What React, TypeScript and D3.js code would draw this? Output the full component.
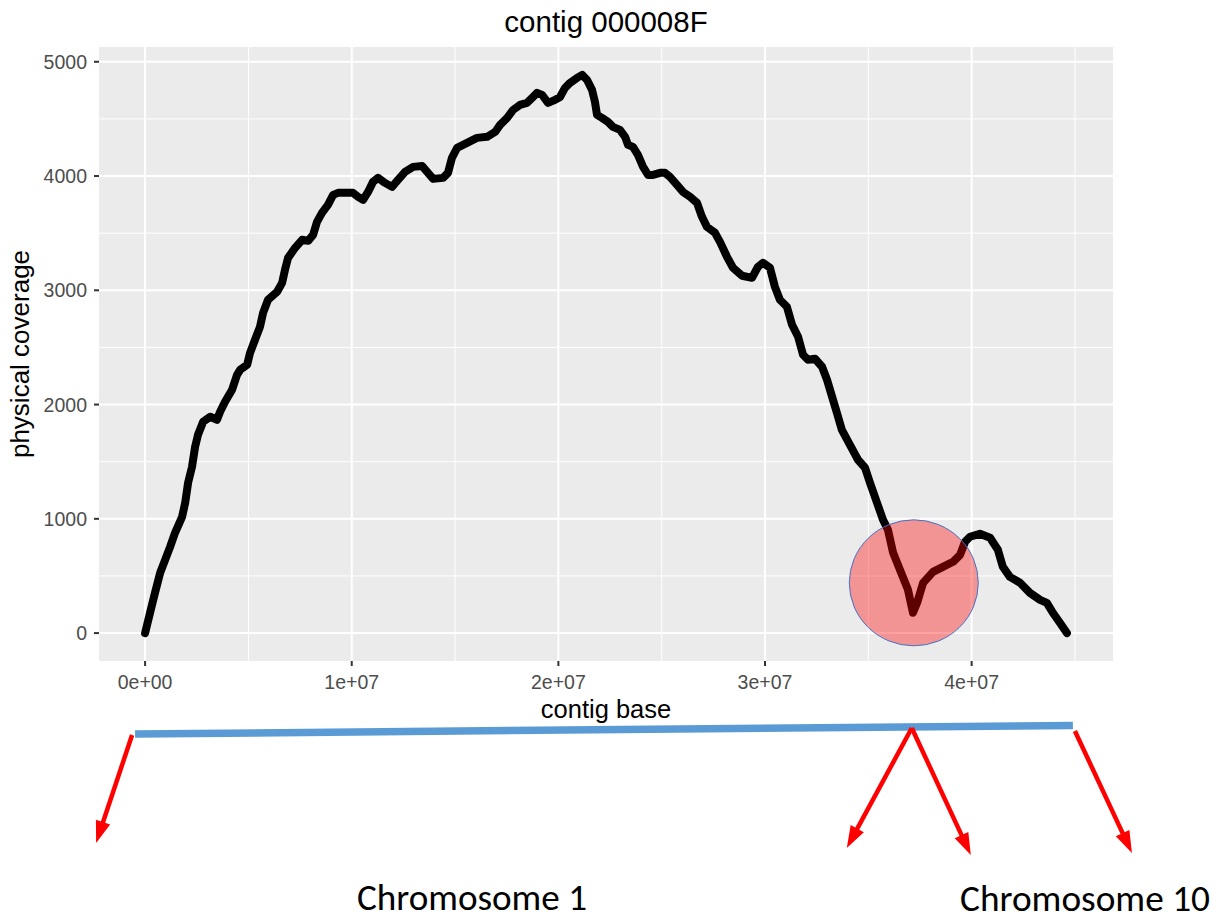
import React from "react";
import * as d3 from "d3";

// Physical coverage along contig 000008F (position in Mb, coverage in read pairs)
const contigBaseMb = [
  0, 0.24, 0.48, 0.73, 0.97, 1.21, 1.45, 1.79, 1.94, 2.08, 2.27, 2.42, 2.56, 2.81, 3.15, 3.48,
  3.63, 3.87, 4.21, 4.45, 4.6, 4.94, 5.08, 5.32, 5.56, 5.71, 5.95, 6.39, 6.63, 6.77, 6.92, 7.26,
  7.6, 7.89, 8.13, 8.32, 8.56, 8.85, 9.1, 9.34, 9.77, 10.06, 10.31, 10.55, 10.79, 11.03, 11.27,
  11.61, 11.95, 12.24, 12.58, 12.97, 13.4, 13.65, 13.94, 14.42, 14.66, 14.85, 15.1, 15.58, 16.06,
  16.55, 16.94, 17.18, 17.52, 17.81, 18.14, 18.48, 18.73, 18.97, 19.21, 19.5, 19.84, 20.08, 20.32,
  20.56, 20.9, 21.15, 21.39, 21.63, 21.77, 21.87, 22.11, 22.4, 22.64, 22.98, 23.23, 23.37, 23.61,
  23.85, 24.1, 24.34, 24.58, 24.92, 25.16, 25.4, 25.74, 26.03, 26.37, 26.71, 26.95, 27.19, 27.58,
  27.82, 28.16, 28.45, 28.89, 29.37, 29.66, 29.9, 30.24, 30.48, 30.72, 31.06, 31.31, 31.6, 31.84,
  32.08, 32.42, 32.76, 33.0, 33.29, 33.48, 33.72, 34.11, 34.5, 34.84, 35.08, 35.42, 35.71, 35.95,
  36.2, 36.53, 36.92, 37.16, 37.36, 37.65, 38.13, 38.61, 39.1, 39.44, 39.68, 39.92, 40.4, 40.89,
  41.27, 41.51, 41.85, 42.34, 42.82, 43.31, 43.64, 43.93, 44.27, 44.61,
];

const coverage = [
  0, 178, 353, 528, 641, 755, 878, 1018, 1140, 1315, 1455, 1630, 1735, 1849, 1893, 1867,
  1937, 2024, 2129, 2260, 2304, 2348, 2453, 2567, 2680, 2803, 2917, 2987, 3065, 3179, 3284, 3372,
  3442, 3433, 3485, 3599, 3678, 3748, 3835, 3853, 3853, 3853, 3818, 3791, 3861, 3949, 3984,
  3940, 3905, 3966, 4036, 4080, 4088, 4036, 3975, 3984, 4028, 4159, 4246, 4290, 4334,
  4343, 4386, 4448, 4509, 4579, 4622, 4640, 4684, 4728, 4710, 4640, 4666, 4692, 4771,
  4815, 4859, 4885, 4841, 4754, 4649, 4535, 4509, 4474, 4430, 4404, 4343, 4273, 4255,
  4185, 4080, 4010, 4010, 4028, 4028, 3993, 3923, 3861, 3818, 3765, 3643, 3555, 3503,
  3424, 3293, 3197, 3127, 3109, 3206, 3241, 3197, 3030, 2917, 2856, 2698, 2593, 2436,
  2392, 2401, 2331, 2217, 2042, 1928, 1779, 1648, 1517, 1447, 1316, 1141, 992, 904,
  703, 554, 379, 178, 265, 440, 536, 580, 624, 685, 799, 843, 869, 834,
  729, 580, 492, 440, 352, 291, 265, 178, 90, 0,
];

const xTicks = [0, 1e7, 2e7, 3e7, 4e7];
const xTickLabels = ["0e+00", "1e+07", "2e+07", "3e+07", "4e+07"];
const xMinorTicks = [5e6, 1.5e7, 2.5e7, 3.5e7, 4.5e7];
const yTicks = [0, 1000, 2000, 3000, 4000, 5000];
const yTickLabels = ["0", "1000", "2000", "3000", "4000", "5000"];
const yMinorTicks = [500, 1500, 2500, 3500, 4500];

// Breakpoint highlighted on the coverage track (bp) and its coverage level
const breakpointBase = 37.2e6;
const breakpointCoverage = 440;

const chromosomeLabels = ["Chromosome 1", "Chromosome 10"];

const W = 1220;
const H = 921;
const panel = { left: 99, right: 1113, top: 47, bottom: 661 };

function expand([lo, hi]: [number, number], f = 0.05): [number, number] {
  const r = hi - lo;
  return [lo - r * f, hi + r * f];
}

export default function App() {
  const points = contigBaseMb.map((m, i) => ({ x: m * 1e6, y: coverage[i] }));
  const xExt = d3.extent(points, (d) => d.x) as [number, number];
  const yExt = d3.extent(points, (d) => d.y) as [number, number];

  const x = d3.scaleLinear().domain(expand(xExt)).range([panel.left, panel.right]);
  const y = d3.scaleLinear().domain(expand(yExt)).range([panel.bottom, panel.top]);

  const line = d3
    .line<{ x: number; y: number }>()
    .x((d) => x(d.x))
    .y((d) => y(d.y))
    .curve(d3.curveLinear);

  const font = "'Liberation Sans', Arial, Helvetica, sans-serif";
  const calloutFont = "Carlito, Calibri, 'Liberation Sans Narrow', 'Noto Sans', sans-serif";
  const red = "#ff0000";

  // Contig bar under the axis and the arrows leading to the two chromosomes
  const contigStart = x(xExt[0]);
  const contigEnd = x(xExt[1]);
  const bp = x(breakpointBase);
  const bar = { x1: contigStart - 10, y1: 734, x2: contigEnd + 6, y2: 725.5 };
  const arrows = [
    { x1: contigStart - 13, y1: 735, dx: -36, dy: 108 },
    { x1: bp - 2, y1: 728, dx: -65, dy: 120 },
    { x1: bp - 2, y1: 728, dx: 59, dy: 127 },
    { x1: contigEnd + 8, y1: 731, dx: 57, dy: 122 },
  ];

  const arrowHead = (x1: number, y1: number, dx: number, dy: number) => {
    const len = Math.hypot(dx, dy);
    const ux = dx / len;
    const uy = dy / len;
    const tx = x1 + dx;
    const ty = y1 + dy;
    const hl = 22;
    const hw = 7.5;
    const bx = tx - ux * hl;
    const by = ty - uy * hl;
    return {
      shaftEnd: [tx - ux * (hl - 2), ty - uy * (hl - 2)],
      pts: `${tx},${ty} ${bx - uy * hw},${by + ux * hw} ${bx + uy * hw},${by - ux * hw}`,
    };
  };

  return (
    <svg
      width={W}
      height={H}
      viewBox={`0 0 ${W} ${H}`}
      style={{ position: "absolute", left: 0, top: 0, background: "#ffffff" }}
    >
      {/* panel */}
      <rect
        x={panel.left}
        y={panel.top}
        width={panel.right - panel.left}
        height={panel.bottom - panel.top}
        fill="#ebebeb"
      />
      {xMinorTicks.map((t) => (
        <line key={"xm" + t} x1={x(t)} x2={x(t)} y1={panel.top} y2={panel.bottom} stroke="#fff" strokeWidth={1} />
      ))}
      {yMinorTicks.map((t) => (
        <line key={"ym" + t} y1={y(t)} y2={y(t)} x1={panel.left} x2={panel.right} stroke="#fff" strokeWidth={1} />
      ))}
      {xTicks.map((t) => (
        <line key={"xg" + t} x1={x(t)} x2={x(t)} y1={panel.top} y2={panel.bottom} stroke="#fff" strokeWidth={2} />
      ))}
      {yTicks.map((t) => (
        <line key={"yg" + t} y1={y(t)} y2={y(t)} x1={panel.left} x2={panel.right} stroke="#fff" strokeWidth={2} />
      ))}

      {/* coverage track */}
      <path
        d={line(points) ?? ""}
        fill="none"
        stroke="#000"
        strokeWidth={8}
        strokeLinejoin="round"
        strokeLinecap="round"
      />

      {/* axes */}
      {xTicks.map((t, i) => (
        <g key={"xt" + t}>
          <line x1={x(t)} x2={x(t)} y1={panel.bottom} y2={panel.bottom + 5} stroke="#333" strokeWidth={2} />
          <text x={x(t)} y={689} textAnchor="middle" fontFamily={font} fontSize={19.5} fill="#4d4d4d">
            {xTickLabels[i]}
          </text>
        </g>
      ))}
      {yTicks.map((t, i) => (
        <g key={"yt" + t}>
          <line x1={panel.left - 5} x2={panel.left} y1={y(t)} y2={y(t)} stroke="#333" strokeWidth={2} />
          <text
            x={87}
            y={y(t)}
            dy="0.36em"
            textAnchor="end"
            fontFamily={font}
            fontSize={19.5}
            fill="#4d4d4d"
          >
            {yTickLabels[i]}
          </text>
        </g>
      ))}

      <text x={(panel.left + panel.right) / 2} y={32} textAnchor="middle" fontFamily={font} fontSize={29.5} fill="#000">
        contig 000008F
      </text>
      <text x={(panel.left + panel.right) / 2} y={718} textAnchor="middle" fontFamily={font} fontSize={25.5} fill="#000">
        contig base
      </text>
      <text
        transform={`translate(29,${(panel.top + panel.bottom) / 2}) rotate(-90)`}
        textAnchor="middle"
        fontFamily={font}
        fontSize={26}
        fill="#000"
      >
        physical coverage
      </text>

      {/* breakpoint highlight */}
      <ellipse
        cx={x(breakpointBase)}
        cy={y(breakpointCoverage)}
        rx={64.5}
        ry={63}
        fill="#ff0000"
        fillOpacity={0.37}
        stroke="#4472c4"
        strokeWidth={1}
      />

      {/* contig bar and arrows */}
      <line x1={bar.x1} y1={bar.y1} x2={bar.x2} y2={bar.y2} stroke="#5b9bd5" strokeWidth={7.5} />
      {arrows.map((a, i) => {
        const h = arrowHead(a.x1, a.y1, a.dx, a.dy);
        return (
          <g key={"arrow" + i}>
            <line x1={a.x1} y1={a.y1} x2={h.shaftEnd[0]} y2={h.shaftEnd[1]} stroke={red} strokeWidth={4.5} />
            <polygon points={h.pts} fill={red} />
          </g>
        );
      })}

      <text
        x={472}
        y={910}
        textAnchor="middle"
        fontFamily={calloutFont}
        fontSize={36}
        textLength={230}
        lengthAdjust="spacingAndGlyphs"
        fill="#000"
      >
        {chromosomeLabels[0]}
      </text>
      <text
        x={1085}
        y={911}
        textAnchor="middle"
        fontFamily={calloutFont}
        fontSize={36}
        textLength={250}
        lengthAdjust="spacingAndGlyphs"
        fill="#000"
      >
        {chromosomeLabels[1]}
      </text>
    </svg>
  );
}
